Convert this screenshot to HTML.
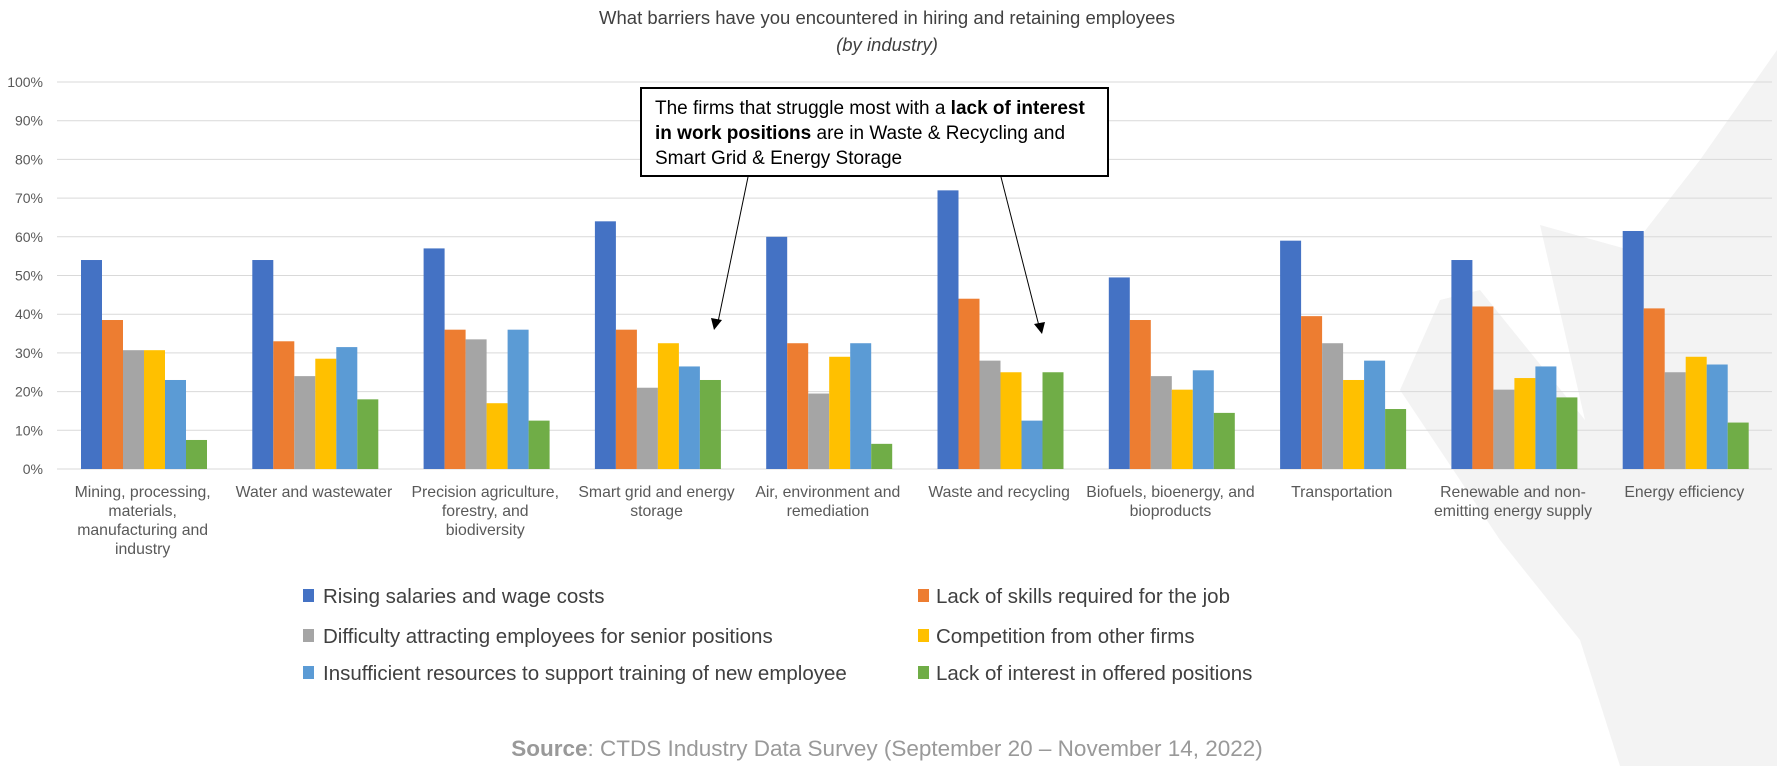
<!DOCTYPE html>
<html><head><meta charset="utf-8"><style>
html,body{margin:0;padding:0;background:#fff;}
svg{display:block;font-family:"Liberation Sans",sans-serif;}
</style></head><body>
<svg width="1777" height="766" viewBox="0 0 1777 766" xmlns="http://www.w3.org/2000/svg">
<polygon fill="#f3f3f3" points="1777,50 1700,160 1630,250 1540,225 1585,420 1480,290 1440,300 1400,390 1500,540 1580,640 1620,766 1777,766"/>
<text x="887" y="24" font-size="18.5" fill="#404040" text-anchor="middle">What barriers have you encountered in hiring and retaining employees</text>
<text x="887" y="51" font-size="18.5" fill="#404040" text-anchor="middle" font-style="italic">(by industry)</text>
<g id="grid" stroke="#d9d9d9" stroke-width="1"></g>
<g id="bars"></g>
<g id="labels" font-size="14" fill="#595959"></g>
<g id="cats" font-size="15.8" fill="#595959"></g>
<rect x="641" y="88" width="467" height="88" fill="#fff" stroke="#000" stroke-width="2"/>
<text font-size="19" fill="#000"><tspan x="655" y="114">The firms that struggle most with a <tspan font-weight="bold">lack of interest</tspan></tspan><tspan x="655" y="139"><tspan font-weight="bold">in work positions</tspan> are in Waste &amp; Recycling and</tspan><tspan x="655" y="164">Smart Grid &amp; Energy Storage</tspan></text>
<line x1="748" y1="177" x2="718" y2="322" stroke="#000" stroke-width="1"/>
<polygon points="714,330 711,318 722,320" fill="#000"/>
<line x1="1001" y1="177" x2="1039" y2="326" stroke="#000" stroke-width="1"/>
<polygon points="1042,334 1034,324 1045,322" fill="#000"/>
<g font-size="20.5" fill="#404040">
<rect x="303" y="589" width="11" height="13" fill="#4472c4"/><text x="323" y="603">Rising salaries and wage costs</text>
<rect x="303" y="629" width="11" height="13" fill="#a5a5a5"/><text x="323" y="643">Difficulty attracting employees for senior positions</text>
<rect x="303" y="666" width="11" height="13" fill="#5b9bd5"/><text x="323" y="680">Insufficient resources to support training of new employee</text>
<rect x="918" y="589" width="11" height="13" fill="#ed7d31"/><text x="936" y="603">Lack of skills required for the job</text>
<rect x="918" y="629" width="11" height="13" fill="#ffc000"/><text x="936" y="643">Competition from other firms</text>
<rect x="918" y="666" width="11" height="13" fill="#70ad47"/><text x="936" y="680">Lack of interest in offered positions</text>
</g>
<text x="887" y="756" font-size="22.5" fill="#999" text-anchor="middle"><tspan font-weight="bold">Source</tspan>: CTDS Industry Data Survey (September 20 – November 14, 2022)</text>
</svg>
<script>
var ns="http://www.w3.org/2000/svg";
var base=469,scale=3.87,x0=57,pitch=171.3,bw=21;
var g=document.getElementById("grid"),b=document.getElementById("bars"),L=document.getElementById("labels"),C=document.getElementById("cats");
function el(t,a,p,txt){var e=document.createElementNS(ns,t);for(var k in a)e.setAttribute(k,a[k]);if(txt)e.textContent=txt;p.appendChild(e);return e;}
for(var i=0;i<=10;i++){var y=base-i*10*scale;el("line",{x1:57,x2:1772,y1:y,y2:y},g);
el("text",{x:43,y:y+5,"text-anchor":"end"},L,(i*10)+"%");}
var cols=["#4472c4","#ed7d31","#a5a5a5","#ffc000","#5b9bd5","#70ad47"];
var d=[[54,38.5,30.7,30.7,23,7.5],[54,33,24,28.5,31.5,18],[57,36,33.5,17,36,12.5],[64,36,21,32.5,26.5,23],[60,32.5,19.5,29,32.5,6.5],[72,44,28,25,12.5,25],[49.5,38.5,24,20.5,25.5,14.5],[59,39.5,32.5,23,28,15.5],[54,42,20.5,23.5,26.5,18.5],[61.5,41.5,25,29,27,12]];
var cats=[["Mining, processing,","materials,","manufacturing and","industry"],["Water and wastewater"],["Precision agriculture,","forestry, and","biodiversity"],["Smart grid and energy","storage"],["Air, environment and","remediation"],["Waste and recycling"],["Biofuels, bioenergy, and","bioproducts"],["Transportation"],["Renewable and non-","emitting energy supply"],["Energy efficiency"]];
for(var j=0;j<10;j++){var gx=x0+j*pitch+24;
for(var k=0;k<6;k++){var h=d[j][k]*scale;el("rect",{x:gx+k*bw,y:base-h,width:bw,height:h,fill:cols[k]},b);}
var cx=x0+j*pitch+pitch/2;
for(var m=0;m<cats[j].length;m++)el("text",{x:cx,y:497+m*19,"text-anchor":"middle"},C,cats[j][m]);}
</script>
</body></html>
